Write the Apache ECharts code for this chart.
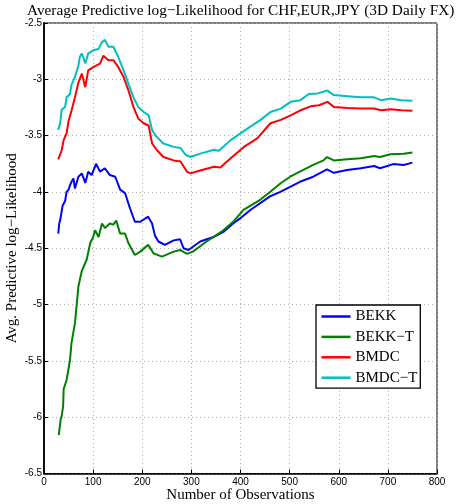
<!DOCTYPE html>
<html><head><meta charset="utf-8">
<script src="https://cdn.jsdelivr.net/npm/echarts@6/dist/echarts.min.js"></script>
<style>html,body{margin:0;padding:0;background:#fff}#c{width:458px;height:504px}</style>
</head><body><div id="c"></div>
<script>
var seriesNames = ['BEKK', 'BEKK\u2212T', 'BMDC', 'BMDC\u2212T'];
var seriesColors = ['#0000ff', '#008000', '#ff0000', '#00bfbf'];

var bekkX = [29,31,33,38,43,46,50,53,56,60,63,70,77,84,90,97,106,114,124,134,145,155,165,175,185,196,212,220,226,233,246,264,277,284,294,318,345,365,385,399,420,460,481,501,521,548,576,590,617,645,672,684,711,732,750];
var bekkY = [-4.37,-4.28,-4.25,-4.12,-4.08,-4.00,-3.98,-3.94,-3.91,-3.88,-3.97,-3.865,-3.835,-3.92,-3.82,-3.85,-3.75,-3.82,-3.79,-3.85,-3.865,-3.98,-4.01,-4.145,-4.265,-4.265,-4.22,-4.28,-4.39,-4.44,-4.47,-4.43,-4.42,-4.50,-4.515,-4.44,-4.40,-4.355,-4.28,-4.235,-4.16,-4.04,-4.00,-3.955,-3.91,-3.865,-3.80,-3.83,-3.806,-3.79,-3.77,-3.79,-3.753,-3.76,-3.74];

var bekkTX = [30,34,36,39,40,46,53,56,63,70,77,87,94,100,104,111,118,124,134,141,147,155,165,172,185,196,212,223,226,240,264,277,291,303,331,345,365,385,406,440,460,481,501,521,548,569,576,590,617,645,672,684,705,732,750];
var bekkTY = [-6.16,-6.02,-5.99,-5.90,-5.75,-5.67,-5.49,-5.34,-5.165,-4.84,-4.70,-4.60,-4.456,-4.40,-4.34,-4.40,-4.28,-4.32,-4.28,-4.29,-4.255,-4.37,-4.37,-4.456,-4.56,-4.53,-4.47,-4.545,-4.53,-4.575,-4.53,-4.515,-4.55,-4.53,-4.44,-4.40,-4.34,-4.265,-4.16,-4.07,-4.00,-3.925,-3.865,-3.82,-3.76,-3.72,-3.69,-3.72,-3.71,-3.70,-3.68,-3.69,-3.665,-3.66,-3.65];

var bmdcX = [29,36,40,46,50,56,63,70,77,84,90,101,114,121,131,141,151,162,172,182,192,203,213,220,230,243,264,278,291,298,318,346,359,380,407,434,461,482,502,522,543,560,577,590,618,645,672,686,706,727,750];
var bmdcY = [-3.71,-3.63,-3.54,-3.48,-3.37,-3.28,-3.16,-3.03,-2.95,-3.07,-2.92,-2.89,-2.86,-2.79,-2.83,-2.83,-2.89,-2.98,-3.10,-3.245,-3.35,-3.39,-3.41,-3.57,-3.63,-3.69,-3.72,-3.73,-3.82,-3.835,-3.81,-3.777,-3.782,-3.70,-3.60,-3.525,-3.39,-3.36,-3.32,-3.275,-3.24,-3.23,-3.20,-3.245,-3.255,-3.26,-3.26,-3.275,-3.265,-3.275,-3.28];

var bmdcTX = [29,33,36,43,46,53,56,63,70,73,77,84,90,101,111,118,124,131,141,151,162,172,182,192,203,213,220,227,243,264,278,288,298,318,346,356,380,400,420,441,461,482,502,522,539,557,577,590,618,645,672,686,706,727,750];
var bmdcTY = [-3.45,-3.39,-3.27,-3.245,-3.16,-3.13,-3.05,-2.98,-2.88,-2.80,-2.77,-2.86,-2.77,-2.74,-2.73,-2.67,-2.65,-2.71,-2.71,-2.80,-2.92,-3.04,-3.16,-3.245,-3.29,-3.32,-3.45,-3.50,-3.57,-3.60,-3.61,-3.67,-3.69,-3.66,-3.625,-3.635,-3.54,-3.48,-3.42,-3.36,-3.29,-3.26,-3.20,-3.185,-3.13,-3.125,-3.10,-3.14,-3.15,-3.16,-3.16,-3.185,-3.17,-3.185,-3.19];

var xTicks = {min: 0, max: 800, step: 100};
var yTicks = {min: -6.5, max: -2.5, step: 0.5};

function zip(xs, ys) { return xs.map(function (x, i) { return [x, ys[i]]; }); }
var allX = [bekkX, bekkTX, bmdcX, bmdcTX];
var allY = [bekkY, bekkTY, bmdcY, bmdcTY];

var serif = 'Liberation Serif';
var sans = 'Liberation Sans';
var chart = echarts.init(document.getElementById('c'));
chart.setOption({
  animation: false,
  backgroundColor: '#fff',
  title: {
    text: 'Average Predictive log\u2212Likelihood for CHF,EUR,JPY (3D Daily FX)',
    left: 27, top: 3, padding: 0,
    textStyle: {fontFamily: serif, fontSize: 15.3, fontWeight: 'normal', color: '#000'}
  },
  grid: {left: 44, right: 21, top: 23, bottom: 30.5, show: true, borderColor: '#000', borderWidth: 1,
         backgroundColor: 'transparent', containLabel: false, outerBoundsMode: 'none'},
  legend: {
    orient: 'vertical', left: 316, top: 305,
    data: seriesNames,
    icon: 'rect', itemWidth: 29, itemHeight: 2.5, itemGap: 5.4,
    padding: [4, 3, 3, 5.5],
    borderColor: '#000', borderWidth: 1.3, backgroundColor: '#fff',
    textStyle: {fontFamily: serif, fontSize: 15, color: '#000', lineHeight: 15}
  },
  xAxis: {
    type: 'value', min: xTicks.min, max: xTicks.max, interval: xTicks.step,
    name: 'Number of Observations', nameLocation: 'middle', nameGap: 14, nameMoveOverlap: false,
    nameTextStyle: {fontFamily: serif, fontSize: 15, color: '#000', verticalAlign: 'top'},
    axisLine: {show: true, lineStyle: {color: '#000', width: 1.5}},
    axisTick: {show: true, inside: true, length: 4, lineStyle: {color: '#000'}},
    axisLabel: {fontFamily: sans, fontSize: 10, color: '#000', margin: 4},
    splitLine: {show: true, lineStyle: {color: '#aaa', type: [1, 3], width: 1}}
  },
  yAxis: {
    type: 'value', min: yTicks.min, max: yTicks.max, interval: yTicks.step,
    name: 'Avg. Predictive log\u2212Likelihood', nameLocation: 'middle', nameGap: 24, nameMoveOverlap: false,
    nameTextStyle: {fontFamily: serif, fontSize: 15, color: '#000'},
    axisLine: {show: true, lineStyle: {color: '#000', width: 1.8}},
    axisTick: {show: true, inside: true, length: 4, lineStyle: {color: '#000'}},
    axisLabel: {fontFamily: sans, fontSize: 10, color: '#000', margin: 2},
    splitLine: {show: true, lineStyle: {color: '#aaa', type: [1, 3], width: 1}}
  },
  series: seriesNames.map(function (n, i) {
    return {
      name: n, type: 'line', data: zip(allX[i], allY[i]),
      showSymbol: false, symbol: 'none',
      lineStyle: {color: seriesColors[i], width: 2},
      itemStyle: {color: seriesColors[i]}
    };
  })
});
</script></body></html>
